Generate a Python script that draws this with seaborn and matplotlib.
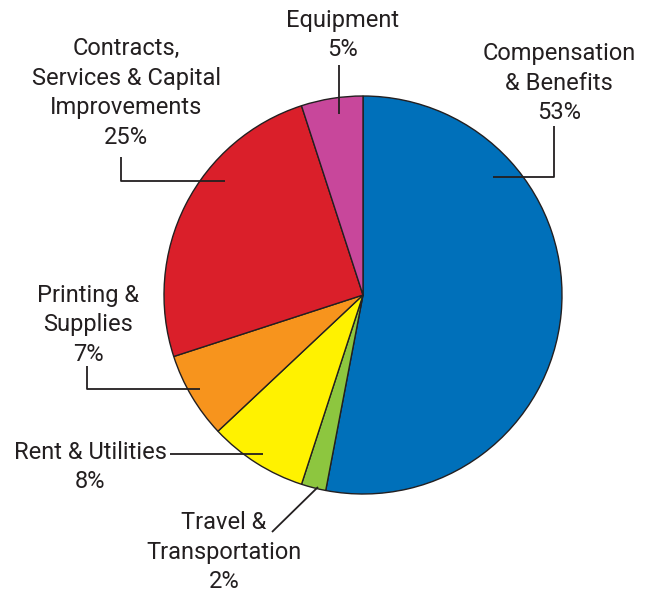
import matplotlib
matplotlib.use('Agg')
from matplotlib import pyplot as plt
import seaborn as sns

sns.set_theme(style='white')
plt.rcParams['font.family'] = ['Roboto', 'DejaVu Sans']

categories = ['Compensation\n& Benefits', 'Travel &\nTransportation', 'Rent & Utilities',
              'Printing &\nSupplies', 'Contracts,\nServices & Capital\nImprovements', 'Equipment']
shares = [53, 2, 8, 7, 25, 5]
colors = ['#0070BA', '#8DC63F', '#FFF200', '#F7941D', '#DA1F2A', '#C8479B']

W, H = 645, 593
txt_col = '#231F20'


def Y(y):
    # pixel row (from top) to axis y
    return H - y


fig = plt.figure(figsize=(W / 100, H / 100), dpi=100)
ax = fig.add_axes([0, 0, 1, 1])

ax.pie(shares, colors=colors, startangle=90, counterclock=False,
       center=(363, Y(295)), radius=199,
       wedgeprops=dict(edgecolor='#231F20', linewidth=1.0))

# pie() resets the limits, so set them afterwards
ax.set_xlim(0, W)
ax.set_ylim(0, H)
ax.set_aspect('equal')
ax.axis('off')

# label text (x, y center), leader lines
labels = [
    (559, 83, f'{categories[0]}\n{shares[0]}%'),
    (224, 552, f'{categories[1]}\n{shares[1]}%'),
    (90, 467, f'{categories[2]}\n{shares[2]}%'),
    (88, 325, f'{categories[3]}\n{shares[3]}%'),
    (126, 93, f'{categories[4]}\n{shares[4]}%'),
    (343, 35, f'{categories[5]}\n{shares[5]}%'),
]
for x, y, s in labels:
    ax.text(x, Y(y), s, ha='center', va='center', multialignment='center',
            fontsize=17, color=txt_col, linespacing=1.38)

leaders = [
    [(493, 177), (554, 177), (554, 126)],
    [(318, 487), (272, 532)],
    [(170, 454), (263, 454)],
    [(87, 366), (87, 389), (200, 389)],
    [(121, 157), (121, 181), (225, 181)],
    [(339, 65), (339, 114)],
]
for pts in leaders:
    xs = [p[0] for p in pts]
    ys = [Y(p[1]) for p in pts]
    ax.plot(xs, ys, color=txt_col, linewidth=1.3, solid_capstyle='butt')

fig.savefig('out.png', dpi=100)
